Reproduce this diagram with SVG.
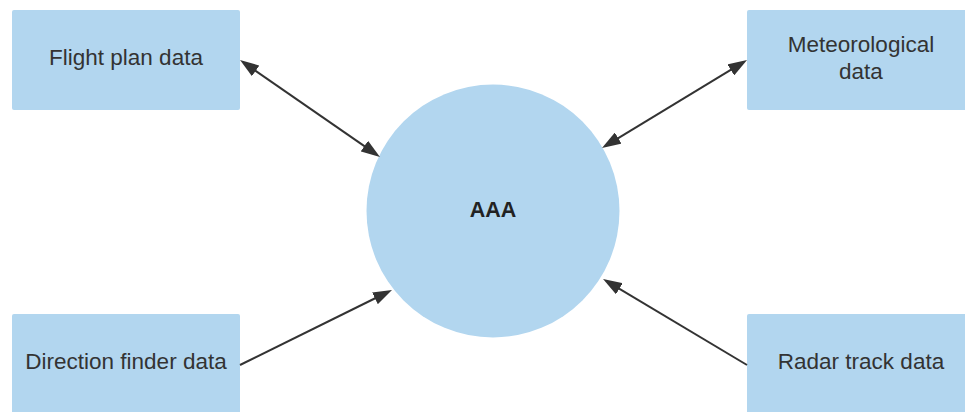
<svg xmlns="http://www.w3.org/2000/svg" width="965" height="412" viewBox="0 0 965 412">
  <style>
    .box { fill: #b2d6ef; }
    .lbl { font-family: "Liberation Sans", Arial, sans-serif; font-size: 22.5px; fill: #333333; text-anchor: middle; }
    .bold { font-weight: bold; font-size: 21.5px; fill: #222222; }
    .link { stroke: #333333; stroke-width: 2; fill: none; }
  </style>
  <defs>
    <marker id="head" viewBox="0 0 19 13" markerWidth="19" markerHeight="13" refX="11" refY="6.5" orient="auto-start-reverse" markerUnits="userSpaceOnUse">
      <path d="M0,0 L19,6.5 L0,13 z" fill="#333333"/>
    </marker>
  </defs>
  <rect width="965" height="412" fill="#ffffff"/>

  <g id="node-aaa">
    <circle class="box" cx="493" cy="211" r="126.5"/>
    <text class="lbl bold" x="493" y="216.5">AAA</text>
  </g>

  <g id="node-flight-plan">
    <rect class="box" x="12" y="10" width="228" height="100" rx="2"/>
    <text class="lbl" x="126" y="65">Flight plan data</text>
  </g>

  <g id="node-meteorological">
    <rect class="box" x="747" y="10" width="228" height="100" rx="2"/>
    <text class="lbl" x="861" y="51.5">Meteorological</text>
    <text class="lbl" x="861" y="78.5">data</text>
  </g>

  <g id="node-direction-finder">
    <rect class="box" x="12" y="314" width="228" height="100" rx="2"/>
    <text class="lbl" x="126" y="369">Direction finder data</text>
  </g>

  <g id="node-radar-track">
    <rect class="box" x="747" y="314" width="228" height="100" rx="2"/>
    <text class="lbl" x="861" y="369">Radar track data</text>
  </g>

  <g id="connectors">
    <line class="link" x1="246.6" y1="64.6" x2="373.4" y2="152.4" marker-start="url(#head)" marker-end="url(#head)"/>
    <line class="link" x1="740.2" y1="64.2" x2="608.8" y2="143.8" marker-start="url(#head)" marker-end="url(#head)"/>
    <line class="link" x1="240" y1="365" x2="384.8" y2="293.5" marker-end="url(#head)"/>
    <line class="link" x1="747" y1="365" x2="609.9" y2="283.1" marker-end="url(#head)"/>
  </g>
</svg>
